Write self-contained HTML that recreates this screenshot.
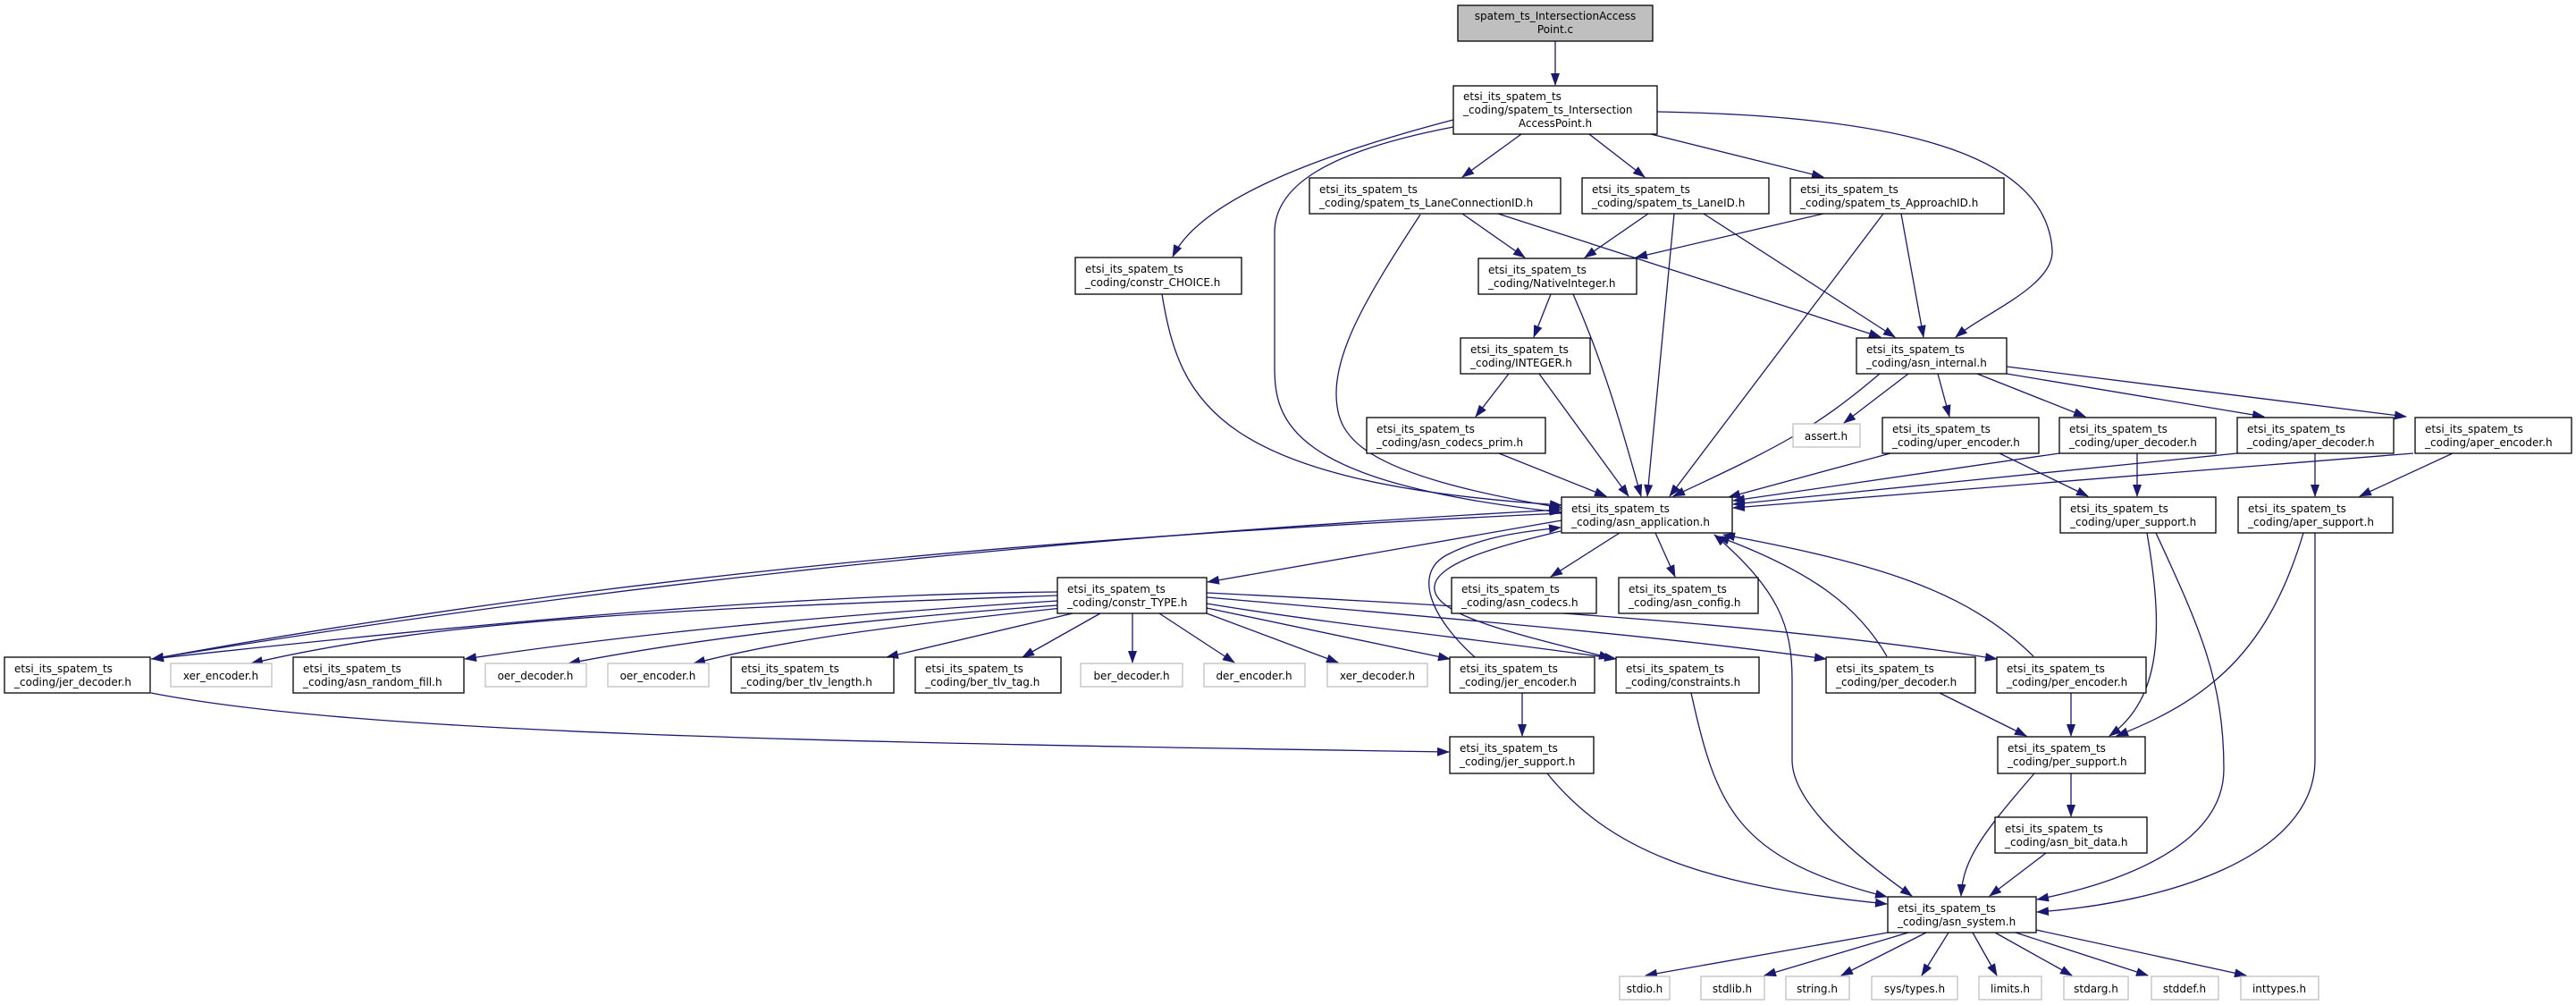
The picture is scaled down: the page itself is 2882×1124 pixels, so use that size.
<!DOCTYPE html>
<html><head><meta charset="utf-8"><style>
html,body{margin:0;padding:0;background:#fff;}
svg{display:block;}
text{font-family:"DejaVu Sans","Liberation Sans",sans-serif;font-size:12px;fill:#000;}
.n{fill:#fff;stroke:#000;stroke-width:1.3;}
.g{fill:#fff;stroke:#bfbfbf;stroke-width:1.3;}
.e{fill:none;stroke:#191970;stroke-width:1.3;}
</style></head><body>
<svg width="2882" height="1124" viewBox="0 0 2882 1124" xmlns="http://www.w3.org/2000/svg">
<defs><marker id="a" markerWidth="14" markerHeight="10" refX="13" refY="5" orient="auto" markerUnits="userSpaceOnUse"><path d="M0,0 L14,5 L0,10z" fill="#191970"/></marker>
<marker id="b" markerWidth="14" markerHeight="10" refX="1" refY="5" orient="auto" markerUnits="userSpaceOnUse"><path d="M14,0 L0,5 L14,10z" fill="#191970"/></marker></defs>

<g marker-end="url(#a)">
<path class="e" d="M1740,46 L1740,95"/>
<path class="e" d="M1702,150 L1636,198"/>
<path class="e" d="M1778,150 L1840,198"/>
<path class="e" d="M1847,150 L2040,198"/>
<path class="e" d="M1854,125 C2150,130 2290,180 2296,280 C2298,320 2220,350 2188,377"/>
<path class="e" d="M1626,134 C1450,180 1340,230 1312,287"/>
<path class="e" d="M1626,142 C1480,170 1426,210 1426,260 L1426,410 C1426,470 1440,540 1747,573"/>
<path class="e" d="M1300,329 C1320,450 1360,540 1747,565"/>
<path class="e" d="M1636,239 L1706,288"/>
<path class="e" d="M1676,239 L2104,377"/>
<path class="e" d="M1589,240 C1530,330 1495,390 1495,440 C1495,490 1520,530 1747,568"/>
<path class="e" d="M1844,239 L1773,288"/>
<path class="e" d="M1906,239 L2120,377"/>
<path class="e" d="M1873,239 L1843,555"/>
<path class="e" d="M2040,239 L1830,288"/>
<path class="e" d="M2127,239 L2152,377"/>
<path class="e" d="M2107,239 L1868,555"/>
<path class="e" d="M1735,329 L1716,377"/>
<path class="e" d="M1760,329 C1800,420 1820,500 1836,555"/>
<path class="e" d="M1688,418 L1651,466"/>
<path class="e" d="M1722,418 L1822,555"/>
<path class="e" d="M1677,507 L1797,555"/>
<path class="e" d="M2103,418 C2030,480 1990,500 1872,555"/>
<path class="e" d="M2135,418 L2063,473"/>
<path class="e" d="M2168,418 L2181,466"/>
<path class="e" d="M2212,418 L2333,466"/>
<path class="e" d="M2245,418 L2533,466"/>
<path class="e" d="M2245,410 L2692,466"/>
<path class="e" d="M2115,507 L1934,556"/>
<path class="e" d="M2237,507 L2336,555"/>
<path class="e" d="M2304,507 L1939,560"/>
<path class="e" d="M2391,507 L2391,555"/>
<path class="e" d="M2503,507 L1939,564"/>
<path class="e" d="M2590,507 L2590,555"/>
<path class="e" d="M2700,507 L1939,568"/>
<path class="e" d="M2744,507 L2640,555"/>
<path class="e" d="M1747,582 L1351,651"/>
<path class="e" d="M1812,596 L1735,645"/>
<path class="e" d="M1852,596 L1874,645"/>
<path class="e" marker-start="url(#b)" d="M1918,598 C1990,660 2005,700 2005,760 L2005,850 C2005,900 2080,960 2139,1002"/>
<path class="e" d="M2111,734 C2080,680 2030,640 1922,600"/>
<path class="e" d="M2275,734 C2200,660 2100,630 1928,598"/>
<path class="e" d="M1747,574 C1200,600 700,640 170,737"/>
<path class="e" d="M1183,662 C900,665 600,690 170,737"/>
<path class="e" d="M169,737 C700,650 1200,600 1746,570"/>
<path class="e" d="M1183,666 C800,680 500,690 281,742"/>
<path class="e" d="M1183,672 C900,690 700,710 520,737"/>
<path class="e" d="M1183,677 C1000,690 800,710 636,742"/>
<path class="e" d="M1188,680 C1000,700 880,715 776,742"/>
<path class="e" d="M1200,686 L992,735"/>
<path class="e" d="M1231,686 L1144,735"/>
<path class="e" d="M1267,686 L1267,741"/>
<path class="e" d="M1297,686 L1381,741"/>
<path class="e" d="M1350,686 L1497,741"/>
<path class="e" d="M1350,680 L1622,737"/>
<path class="e" d="M1350,675 C1500,700 1700,720 1808,737"/>
<path class="e" d="M1350,668 C1600,690 1850,710 2043,737"/>
<path class="e" d="M1350,663 C1700,680 2000,700 2234,737"/>
<path class="e" d="M1650,735 C1600,690 1580,640 1620,620 C1660,600 1700,595 1746,590"/>
<path class="e" d="M1746,594 C1680,610 1600,630 1605,660 C1610,690 1700,710 1802,736"/>
<path class="e" d="M1703,775 L1703,823"/>
<path class="e" d="M169,775 C400,820 900,830 1621,841"/>
<path class="e" d="M1892,775 C1920,900 1940,960 2111,1003"/>
<path class="e" d="M1731,865 C1800,950 1900,990 2111,1011"/>
<path class="e" d="M2170,775 L2267,823"/>
<path class="e" d="M2317,775 L2317,823"/>
<path class="e" d="M2402,596 C2420,700 2420,780 2360,823"/>
<path class="e" d="M2577,596 C2540,720 2480,780 2368,823"/>
<path class="e" d="M2317,865 L2317,913"/>
<path class="e" d="M2276,865 C2220,930 2196,960 2194,1002"/>
<path class="e" d="M2289,954 L2226,1002"/>
<path class="e" d="M2412,596 C2460,700 2488,760 2488,860 C2488,950 2360,990 2279,1006"/>
<path class="e" d="M2590,596 L2590,850 C2590,960 2420,1010 2279,1020"/>
<path class="e" d="M2112,1043 L1841,1091"/>
<path class="e" d="M2135,1043 L1974,1091"/>
<path class="e" d="M2155,1043 L2060,1091"/>
<path class="e" d="M2180,1043 L2150,1091"/>
<path class="e" d="M2207,1043 L2234,1091"/>
<path class="e" d="M2232,1043 L2318,1091"/>
<path class="e" d="M2255,1043 L2403,1091"/>
<path class="e" d="M2278,1040 L2513,1091"/>
</g>

<rect x="1631" y="6" width="218" height="40" fill="#bfbfbf" stroke="#000" stroke-width="1.3"/>
<text x="1740" y="22" text-anchor="middle">spatem_ts_IntersectionAccess</text>
<text x="1740" y="37" text-anchor="middle">Point.c</text>

<rect class="n" x="1626" y="96" width="228" height="54"/>
<text x="1637" y="112">etsi_its_spatem_ts</text>
<text x="1637" y="127">_coding/spatem_ts_Intersection</text>
<text x="1740" y="142" text-anchor="middle">AccessPoint.h</text>

<g>
<rect class="n" x="1465" y="199" width="281" height="40"/><text x="1476" y="216">etsi_its_spatem_ts</text><text x="1476" y="231">_coding/spatem_ts_LaneConnectionID.h</text>
<rect class="n" x="1770" y="199" width="209" height="40"/><text x="1781" y="216">etsi_its_spatem_ts</text><text x="1781" y="231">_coding/spatem_ts_LaneID.h</text>
<rect class="n" x="2003" y="199" width="239" height="40"/><text x="2014" y="216">etsi_its_spatem_ts</text><text x="2014" y="231">_coding/spatem_ts_ApproachID.h</text>
<rect class="n" x="1203" y="288" width="186" height="41"/><text x="1214" y="305">etsi_its_spatem_ts</text><text x="1214" y="320">_coding/constr_CHOICE.h</text>
<rect class="n" x="1654" y="289" width="177" height="40"/><text x="1665" y="306">etsi_its_spatem_ts</text><text x="1665" y="321">_coding/NativeInteger.h</text>
<rect class="n" x="1634" y="378" width="145" height="40"/><text x="1645" y="395">etsi_its_spatem_ts</text><text x="1645" y="410">_coding/INTEGER.h</text>
<rect class="n" x="2077" y="378" width="168" height="40"/><text x="2088" y="395">etsi_its_spatem_ts</text><text x="2088" y="410">_coding/asn_internal.h</text>
<rect class="n" x="1529" y="467" width="200" height="40"/><text x="1540" y="484">etsi_its_spatem_ts</text><text x="1540" y="499">_coding/asn_codecs_prim.h</text>
<rect class="g" x="2006" y="474" width="75" height="26"/><text x="2043" y="492" text-anchor="middle">assert.h</text>
<rect class="n" x="2106" y="467" width="175" height="40"/><text x="2117" y="484">etsi_its_spatem_ts</text><text x="2117" y="499">_coding/uper_encoder.h</text>
<rect class="n" x="2304" y="467" width="175" height="40"/><text x="2315" y="484">etsi_its_spatem_ts</text><text x="2315" y="499">_coding/uper_decoder.h</text>
<rect class="n" x="2503" y="467" width="175" height="40"/><text x="2514" y="484">etsi_its_spatem_ts</text><text x="2514" y="499">_coding/aper_decoder.h</text>
<rect class="n" x="2702" y="467" width="175" height="40"/><text x="2713" y="484">etsi_its_spatem_ts</text><text x="2713" y="499">_coding/aper_encoder.h</text>
<rect class="n" x="1747" y="556" width="191" height="40"/><text x="1758" y="573">etsi_its_spatem_ts</text><text x="1758" y="588">_coding/asn_application.h</text>
<rect class="n" x="2305" y="556" width="174" height="40"/><text x="2316" y="573">etsi_its_spatem_ts</text><text x="2316" y="588">_coding/uper_support.h</text>
<rect class="n" x="2504" y="556" width="173" height="40"/><text x="2515" y="573">etsi_its_spatem_ts</text><text x="2515" y="588">_coding/aper_support.h</text>
<rect class="n" x="1183" y="646" width="167" height="40"/><text x="1194" y="663">etsi_its_spatem_ts</text><text x="1194" y="678">_coding/constr_TYPE.h</text>
<rect class="n" x="1624" y="646" width="162" height="40"/><text x="1635" y="663">etsi_its_spatem_ts</text><text x="1635" y="678">_coding/asn_codecs.h</text>
<rect class="n" x="1811" y="646" width="156" height="40"/><text x="1822" y="663">etsi_its_spatem_ts</text><text x="1822" y="678">_coding/asn_config.h</text>

<rect class="n" x="5" y="735" width="163" height="40"/><text x="16" y="752">etsi_its_spatem_ts</text><text x="16" y="767">_coding/jer_decoder.h</text>
<rect class="g" x="191" y="742" width="113" height="26"/><text x="247" y="760" text-anchor="middle">xer_encoder.h</text>
<rect class="n" x="328" y="735" width="191" height="40"/><text x="339" y="752">etsi_its_spatem_ts</text><text x="339" y="767">_coding/asn_random_fill.h</text>
<rect class="g" x="543" y="742" width="113" height="26"/><text x="599" y="760" text-anchor="middle">oer_decoder.h</text>
<rect class="g" x="680" y="742" width="113" height="26"/><text x="736" y="760" text-anchor="middle">oer_encoder.h</text>
<rect class="n" x="818" y="735" width="182" height="40"/><text x="829" y="752">etsi_its_spatem_ts</text><text x="829" y="767">_coding/ber_tlv_length.h</text>
<rect class="n" x="1024" y="735" width="163" height="40"/><text x="1035" y="752">etsi_its_spatem_ts</text><text x="1035" y="767">_coding/ber_tlv_tag.h</text>
<rect class="g" x="1209" y="742" width="114" height="26"/><text x="1266" y="760" text-anchor="middle">ber_decoder.h</text>
<rect class="g" x="1347" y="742" width="113" height="26"/><text x="1403" y="760" text-anchor="middle">der_encoder.h</text>
<rect class="g" x="1485" y="742" width="112" height="26"/><text x="1541" y="760" text-anchor="middle">xer_decoder.h</text>
<rect class="n" x="1622" y="735" width="162" height="40"/><text x="1633" y="752">etsi_its_spatem_ts</text><text x="1633" y="767">_coding/jer_encoder.h</text>
<rect class="n" x="1808" y="735" width="160" height="40"/><text x="1819" y="752">etsi_its_spatem_ts</text><text x="1819" y="767">_coding/constraints.h</text>
<rect class="n" x="2043" y="735" width="167" height="40"/><text x="2054" y="752">etsi_its_spatem_ts</text><text x="2054" y="767">_coding/per_decoder.h</text>
<rect class="n" x="2234" y="735" width="167" height="40"/><text x="2245" y="752">etsi_its_spatem_ts</text><text x="2245" y="767">_coding/per_encoder.h</text>
<rect class="n" x="1622" y="824" width="161" height="41"/><text x="1633" y="841">etsi_its_spatem_ts</text><text x="1633" y="856">_coding/jer_support.h</text>
<rect class="n" x="2235" y="824" width="165" height="41"/><text x="2246" y="841">etsi_its_spatem_ts</text><text x="2246" y="856">_coding/per_support.h</text>
<rect class="n" x="2232" y="914" width="170" height="40"/><text x="2243" y="931">etsi_its_spatem_ts</text><text x="2243" y="946">_coding/asn_bit_data.h</text>
<rect class="n" x="2112" y="1003" width="166" height="40"/><text x="2123" y="1020">etsi_its_spatem_ts</text><text x="2123" y="1035">_coding/asn_system.h</text>

<rect class="g" x="1812" y="1092" width="56" height="26"/><text x="1840" y="1110" text-anchor="middle">stdio.h</text>
<rect class="g" x="1903" y="1092" width="71" height="26"/><text x="1938" y="1110" text-anchor="middle">stdlib.h</text>
<rect class="g" x="1998" y="1092" width="71" height="26"/><text x="2033" y="1110" text-anchor="middle">string.h</text>
<rect class="g" x="2094" y="1092" width="96" height="26"/><text x="2142" y="1110" text-anchor="middle">sys/types.h</text>
<rect class="g" x="2214" y="1092" width="70" height="26"/><text x="2249" y="1110" text-anchor="middle">limits.h</text>
<rect class="g" x="2309" y="1092" width="72" height="26"/><text x="2345" y="1110" text-anchor="middle">stdarg.h</text>
<rect class="g" x="2407" y="1092" width="75" height="26"/><text x="2444" y="1110" text-anchor="middle">stddef.h</text>
<rect class="g" x="2507" y="1092" width="87" height="26"/><text x="2550" y="1110" text-anchor="middle">inttypes.h</text>
</g>
</svg>
</body></html>
